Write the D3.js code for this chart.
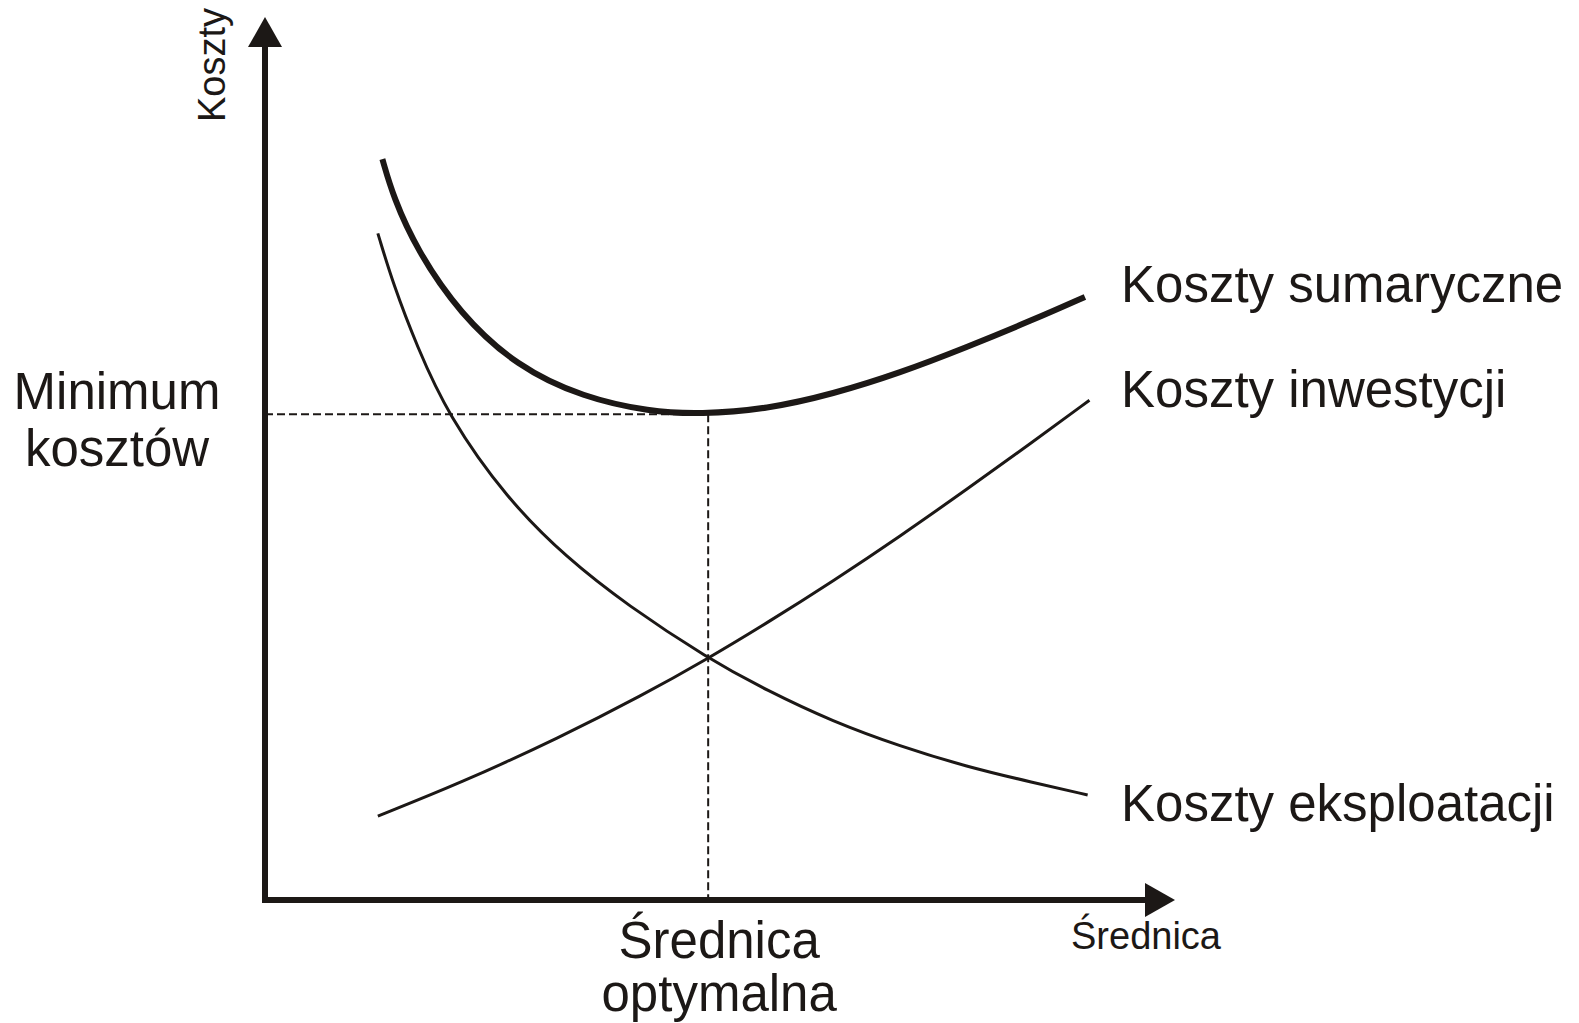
<!DOCTYPE html>
<html>
<head>
<meta charset="utf-8">
<script src="https://cdn.jsdelivr.net/npm/d3@7"></script>
<style>
  body { margin: 0; background: #fff; }
  svg { display: block; }
</style>
</head>
<body>
<svg id="drawing_region"></svg>
<script>
// srednica (x) vs koszty (y), 0..100 units
const totalX   = [12.9, 14.1, 16.7, 21.4, 27.7, 35.0, 42.3, 47.8, 55.2, 62.4, 69.8, 77.1, 84.4, 90.1];
const totalY   = [83.9, 79.6, 73.6, 66.4, 60.4, 56.9, 55.3, 55.0, 55.6, 57.3, 59.7, 62.6, 65.7, 68.3];
const investX  = [12.4, 21.4, 32.4, 41.5, 48.6, 55.2, 62.4, 69.8, 77.1, 84.4, 90.6];
const investY  = [9.5, 13.2, 18.4, 23.2, 27.3, 31.4, 36.1, 41.2, 46.5, 51.9, 56.6];
const exploitX = [12.4, 14.1, 16.7, 20.1, 26.6, 33.2, 39.8, 48.6, 55.2, 62.4, 69.8, 77.1, 84.4, 90.4];
const exploitY = [75.5, 69.7, 62.7, 54.9, 45.4, 38.7, 33.4, 27.4, 23.7, 20.2, 17.4, 15.1, 13.3, 11.9];
const optimum = { x: 48.7, y: 55.0 };

const seriesLabels = ['Koszty sumaryczne', 'Koszty inwestycji', 'Koszty eksploatacji'];
const axisLabels = { x: 'Średnica', y: 'Koszty' };
const optimumXLabel = ['Średnica', 'optymalna'];
const optimumYLabel = ['Minimum', 'kosztów'];

const INK = '#1c1816';

class CostChart {
    constructor(config) {
        this.config = {
            parent: config.parent,
            width: config.width || 1579,
            height: config.height || 1023
        };
        this.init();
    }

    init() {
        let self = this;

        self.svg = d3.select(self.config.parent)
            .attr('width', self.config.width)
            .attr('height', self.config.height)
            .style('font-family', '"Liberation Sans", Arial, sans-serif');

        // axis runs from the origin corner to the arrow tip
        self.xscale = d3.scaleLinear().domain([0, 100]).range([265, 1175]);
        self.yscale = d3.scaleLinear().domain([0, 100]).range([900, 17]);

        self.line = d3.line()
            .x(d => self.xscale(d[0]))
            .y(d => self.yscale(d[1]))
            .curve(d3.curveBasis);
    }

    render() {
        let self = this;
        const x = self.xscale, y = self.yscale;

        // dashed guides to the optimum
        self.svg.append('line')
            .attr('x1', x(0)).attr('x2', x(optimum.x))
            .attr('y1', y(optimum.y)).attr('y2', y(optimum.y))
            .attr('stroke', INK).attr('stroke-width', 2)
            .attr('stroke-dasharray', '8,4');
        self.svg.append('line')
            .attr('x1', x(optimum.x)).attr('x2', x(optimum.x))
            .attr('y1', y(optimum.y)).attr('y2', y(0))
            .attr('stroke', INK).attr('stroke-width', 2)
            .attr('stroke-dasharray', '8,4');

        // curves
        const curves = [
            { xs: totalX, ys: totalY, w: 6 },
            { xs: investX, ys: investY, w: 3 },
            { xs: exploitX, ys: exploitY, w: 3 }
        ];
        self.svg.selectAll('path.curve')
            .data(curves)
            .join('path')
            .attr('class', 'curve')
            .attr('d', c => self.line(c.xs.map((v, i) => [v, c.ys[i]])))
            .attr('fill', 'none')
            .attr('stroke', INK)
            .attr('stroke-width', c => c.w);

        // axes with arrow heads
        const x0 = x(0), y0 = y(0), xEnd = x(100), yEnd = y(100);
        const headLen = 30, headHalf = 17;
        self.svg.append('line')
            .attr('x1', x0).attr('y1', y0 + 3)
            .attr('x2', x0).attr('y2', yEnd + headLen)
            .attr('stroke', INK).attr('stroke-width', 6);
        self.svg.append('line')
            .attr('x1', x0 - 3).attr('y1', y0)
            .attr('x2', xEnd - headLen).attr('y2', y0)
            .attr('stroke', INK).attr('stroke-width', 6);
        self.svg.append('path')
            .attr('d', `M${x0},${yEnd} L${x0 - headHalf},${yEnd + headLen} L${x0 + headHalf},${yEnd + headLen} Z`)
            .attr('fill', INK);
        self.svg.append('path')
            .attr('d', `M${xEnd},${y0} L${xEnd - headLen},${y0 - headHalf} L${xEnd - headLen},${y0 + headHalf} Z`)
            .attr('fill', INK);

        // axis titles
        self.svg.append('text')
            .attr('transform', `translate(225, 122) rotate(-90)`)
            .style('font-size', '38px')
            .attr('fill', INK)
            .text(axisLabels.y);
        self.svg.append('text')
            .attr('x', 1071).attr('y', 949)
            .style('font-size', '38px')
            .attr('fill', INK)
            .text(axisLabels.x);

        // series labels next to curve ends
        const labelY = [302, 407, 821];
        self.svg.selectAll('text.series')
            .data(seriesLabels)
            .join('text')
            .attr('class', 'series')
            .attr('x', 1121)
            .attr('y', (d, i) => labelY[i])
            .style('font-size', '51px')
            .attr('fill', INK)
            .text(d => d);

        // optimum annotations
        self.svg.selectAll('text.optx')
            .data(optimumXLabel)
            .join('text')
            .attr('class', 'optx')
            .attr('x', x(optimum.x) + 11)
            .attr('y', (d, i) => 958 + i * 53)
            .attr('text-anchor', 'middle')
            .style('font-size', '51px')
            .attr('fill', INK)
            .text(d => d);
        self.svg.selectAll('text.opty')
            .data(optimumYLabel)
            .join('text')
            .attr('class', 'opty')
            .attr('x', 117)
            .attr('y', (d, i) => 409 + i * 57)
            .attr('text-anchor', 'middle')
            .style('font-size', '51px')
            .attr('fill', INK)
            .text(d => d);
    }
}

const chart = new CostChart({ parent: '#drawing_region', width: 1579, height: 1023 });
chart.render();
</script>
</body>
</html>
